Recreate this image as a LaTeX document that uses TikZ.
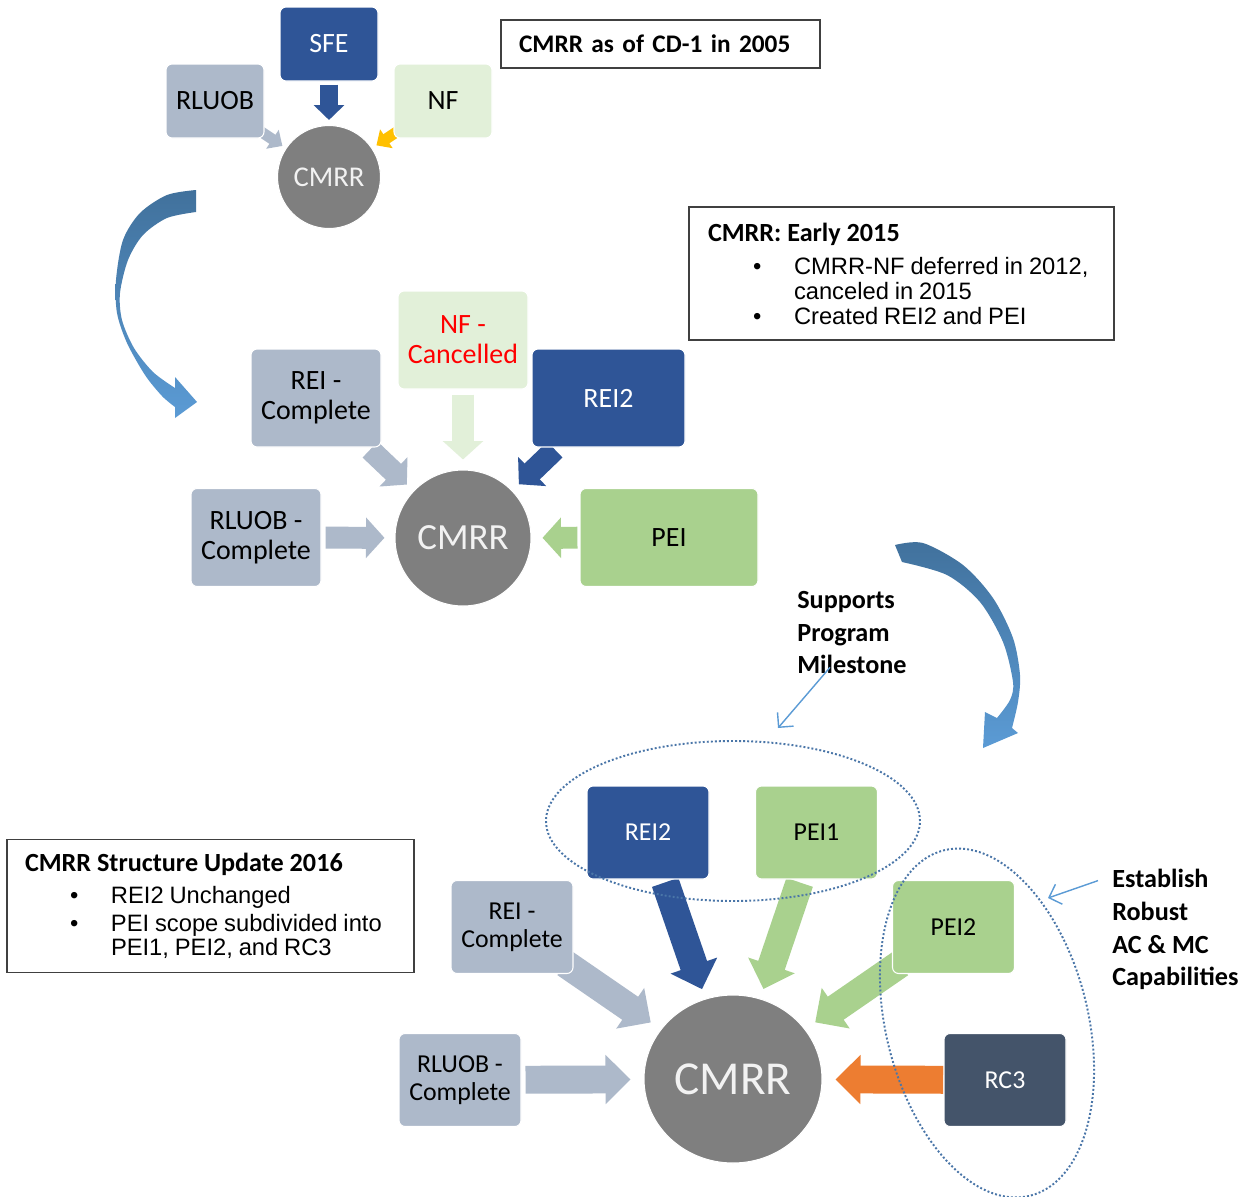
\documentclass[tikz,border=0pt]{standalone}
\usepackage{fontspec}
\setmainfont{Carlito}
\newfontfamily\arialfont{Liberation Sans}
\usetikzlibrary{shapes.geometric, arrows.meta, backgrounds}

\definecolor{darkblue}{HTML}{2F5597}
\definecolor{greyblue}{HTML}{ADB9CA}
\definecolor{palegreen}{HTML}{E2F0D9}
\definecolor{midgreen}{HTML}{A9D18E}
\definecolor{hubgrey}{HTML}{7F7F7F}
\definecolor{slate}{HTML}{44546A}
\definecolor{amber}{HTML}{FFC000}
\definecolor{rcorange}{HTML}{ED7D31}
\definecolor{calloutblue}{HTML}{5B9BD5}
\definecolor{dotblue}{HTML}{4A76A8}
\definecolor{swoopdark}{HTML}{41719C}
\definecolor{swooplight}{HTML}{5B9BD5}

\newcommand{\topfont}{\fontsize{15.9}{17}\selectfont}
\newcommand{\midfont}{\fontsize{15.9}{17}\selectfont}
\newcommand{\botfont}{\fontsize{14.7}{15.9}\selectfont}
\newcommand{\headfont}{\fontsize{14.9}{17}\selectfont\bfseries}
\newcommand{\tagfont}{\fontsize{14.9}{18.7}\selectfont\bfseries}
\newcommand{\bulletfont}{\arialfont\fontsize{13.5}{13.8}\selectfont}
\newcommand{\bulletline}{\hspace*{0.9cm}\makebox[0.82cm][l]{\textbullet}}
\newcommand{\wrapline}{\hspace*{1.72cm}}

\tikzstyle{tile} = [rectangle, rounded corners=3.5pt, draw=white, line width=0.6pt, align=center, inner sep=0pt]
\tikzstyle{topbox} = [tile, minimum width=1.96cm, minimum height=1.48cm, font=\topfont]
\tikzstyle{midbox} = [tile, minimum width=2.60cm, minimum height=1.96cm, font=\midfont]
\tikzstyle{botbox} = [tile, minimum width=2.44cm, minimum height=1.86cm, font=\botfont]
\tikzstyle{hub} = [circle, draw=white, line width=0.6pt, fill=hubgrey, text=white!95!black, inner sep=0pt]
\tikzstyle{notebox} = [rectangle, draw=black!75, line width=0.8pt, align=left, inner xsep=0.38cm, inner ysep=0pt]
\tikzstyle{remark} = [align=left, inner sep=0pt, font=\tagfont]
\tikzstyle{toparrow} = [line width=10.2pt, -{Triangle[length=8.5pt,width=17pt]}]
\tikzstyle{smallarrow} = [line width=6.2pt, -{Triangle[length=6.8pt,width=12.5pt]}]
\tikzstyle{midarrow} = [line width=12.5pt, -{Triangle[length=10.5pt,width=22.5pt]}]
\tikzstyle{botarrow} = [line width=15.9pt, -{Triangle[length=14.2pt,width=27.2pt]}]
\tikzstyle{pointer} = [draw=calloutblue, line width=0.8pt, -{Straight Barb[length=6pt,width=12pt]}]
\tikzstyle{ring} = [draw=dotblue, line width=1.1pt, dash pattern=on 1.1pt off 1.2pt]
\tikzstyle{swoop} = [top color=swoopdark, bottom color=swooplight]

\begin{document}
\begin{tikzpicture}
            \useasboundingbox (0,0) rectangle (24.96,-23.92);

            % CD-1 in 2005
            \node [topbox, fill=darkblue, text=white] at (6.58,-0.88) (sfe) {SFE};
            \node [topbox, fill=greyblue] at (4.30,-2.02) (rluobA) {RLUOB};
            \node [topbox, fill=palegreen] at (8.86,-2.02) (nfA) {NF};
            \node [hub, minimum size=2.06cm, font=\fontsize{16.3}{18}\selectfont] at (6.58,-3.54) (cmrrA) {CMRR};
            \node [notebox, minimum width=6.38cm, minimum height=0.96cm, text width=5.66cm, inner xsep=0.36cm, font=\fontsize{14.4}{17}\selectfont\bfseries] at (13.21,-0.88) (titleA) {\mbox{CMRR as of CD-1 in 2005}};

            % early 2015
            \node [midbox, fill=palegreen, text=red] at (9.26,-6.80) (nfB) {NF -\\Cancelled};
            \node [midbox, fill=greyblue] at (6.32,-7.96) (reiB) {REI -\\Complete};
            \node [midbox, fill=darkblue, text=white, minimum width=3.06cm] at (12.17,-7.96) (reitwoB) {REI2};
            \node [midbox, fill=greyblue] at (5.12,-10.75) (rluobB) {RLUOB -\\Complete};
            \node [midbox, fill=midgreen, minimum width=3.56cm] at (13.38,-10.75) (peiB) {PEI};
            \node [hub, minimum size=2.72cm, font=\fontsize{21}{23}\selectfont] at (9.26,-10.76) (cmrrB) {CMRR};
            \node [notebox, minimum width=8.50cm, minimum height=2.66cm, text width=7.74cm] at (18.03,-5.47) (noteB) {{\headfont CMRR: Early 2015}\\[5.4pt]
                \bulletfont\bulletline\mbox{CMRR-NF deferred in 2012,}\\
                \wrapline canceled in 2015\\[2.3pt]
                \bulletline Created REI2 and PEI};

            % update 2016
            \node [botbox, fill=darkblue, text=white] at (12.96,-16.65) (reitwoC) {REI2};
            \node [botbox, fill=midgreen] at (16.33,-16.65) (peioneC) {PEI1};
            \node [botbox, fill=greyblue] at (10.24,-18.54) (reiC) {REI -\\Complete};
            \node [botbox, fill=midgreen] at (19.07,-18.54) (peitwoC) {PEI2};
            \node [botbox, fill=greyblue] at (9.20,-21.60) (rluobC) {RLUOB -\\Complete};
            \node [botbox, fill=slate, text=white] at (20.10,-21.60) (rcthreeC) {RC3};
            \node [hub, ellipse, minimum width=3.56cm, minimum height=3.36cm, font=\fontsize{26.9}{29}\selectfont] at (14.66,-21.58) (cmrrC) {CMRR};
            \node [notebox, inner xsep=0.36cm, minimum width=8.14cm, minimum height=2.66cm, text width=7.42cm] at (4.21,-18.12) (noteC) {{\headfont CMRR Structure Update 2016}\\[4.3pt]
                \bulletfont\bulletline REI2 Unchanged\\[2.1pt]
                \bulletline\mbox{PEI scope subdivided into}\\
                \wrapline PEI1, PEI2, and RC3};

            \node [remark, anchor=west] at (15.94,-12.65) (supports) {Supports\\Program\\Milestone};
            \node [remark, anchor=west] at (22.24,-18.59) (establish) {Establish\\Robust\\AC \& MC\\Capabilities};
            \coordinate (msfrom) at ([xshift=0.66cm,yshift=0.14cm]supports.south west);
            \coordinate (msto) at (15.56,-14.56);
            \coordinate (esfrom) at ([xshift=-0.28cm,yshift=-0.24cm]establish.north west);
            \coordinate (esto) at (20.96,-17.96);

            \begin{scope}[on background layer]
            \fill [white] (0,0) rectangle (24.96,-23.92);
            \draw [toparrow, darkblue, shorten <=0.06cm, shorten >=0.10cm] (sfe) -- (cmrrA);
            \draw [smallarrow, greyblue, shorten <=-0.2cm, shorten >=0.08cm] (rluobA) -- (cmrrA);
            \draw [smallarrow, amber, shorten <=-0.2cm, shorten >=0.10cm] (nfA) -- (cmrrA);

            \draw [midarrow, palegreen, shorten <=0.10cm, shorten >=0.20cm] (nfB) -- (cmrrB);
            \draw [midarrow, greyblue, shorten <=0.06cm, shorten >=0.18cm] (reiB) -- (cmrrB);
            \draw [midarrow, darkblue, shorten <=0.06cm, shorten >=0.18cm] (reitwoB) -- (cmrrB);
            \draw [midarrow, greyblue, shorten <=0.08cm, shorten >=0.20cm] (rluobB) -- (cmrrB);
            \draw [midarrow, midgreen, shorten <=0.04cm, shorten >=0.22cm] (peiB) -- (cmrrB);

            \draw [botarrow, darkblue, shorten <=0.06cm, shorten >=0.20cm] (reitwoC) -- (cmrrC);
            \draw [botarrow, midgreen, shorten <=0.06cm, shorten >=0.20cm] (peioneC) -- (cmrrC);
            \draw [botarrow, greyblue, shorten <=-0.2cm, shorten >=0.24cm] (reiC) -- (cmrrC);
            \draw [botarrow, midgreen, shorten <=-0.2cm, shorten >=0.24cm] (peitwoC) -- (cmrrC);
            \draw [botarrow, greyblue, shorten <=0.08cm, shorten >=0.26cm] (rluobC) -- (cmrrC);
            \draw [botarrow, rcorange, shorten >=0.26cm] (rcthreeC) -- (cmrrC);
            \end{scope}

            % groupings and call-outs
            \draw [ring] (14.66,-16.42) ellipse [x radius=3.74cm, y radius=1.60cm];
            \draw [ring, rotate around={14:(19.74,-20.46)}] (19.74,-20.46) ellipse [x radius=2.02cm, y radius=3.56cm];
            \draw [pointer] (msfrom) -- (msto);
            \draw [pointer] (esfrom) -- (esto);

            % big curved arrows between the stages
            \shade [swoop] plot [smooth] coordinates {(3.92,-3.80) (3.34,-3.90) (2.80,-4.26) (2.46,-4.80) (2.32,-5.60) (2.34,-6.26) (2.54,-6.86) (2.90,-7.50) (3.24,-7.92) (3.50,-8.14)}
                -- (3.50,-8.36) -- (3.94,-8.04) -- (3.50,-7.54)
                -- plot [smooth] coordinates {(3.50,-7.76) (3.06,-7.44) (2.68,-6.96) (2.44,-6.40) (2.40,-5.86) (2.56,-5.20) (2.86,-4.70) (3.34,-4.36) (3.92,-4.24)} -- cycle;
            \shade [swoop] plot [smooth] coordinates {(17.90,-10.90) (18.46,-10.86) (19.26,-11.30) (19.86,-11.96) (20.26,-12.76) (20.40,-13.50) (20.36,-14.04) (20.24,-14.56)}
                -- (20.36,-14.66) -- (19.66,-14.96) -- (19.70,-14.24)
                -- plot [smooth] coordinates {(19.94,-14.36) (20.20,-14.00) (20.26,-13.64) (20.06,-12.84) (19.60,-12.04) (18.94,-11.50) (18.04,-11.24)} -- cycle;
\end{tikzpicture}
\end{document}
